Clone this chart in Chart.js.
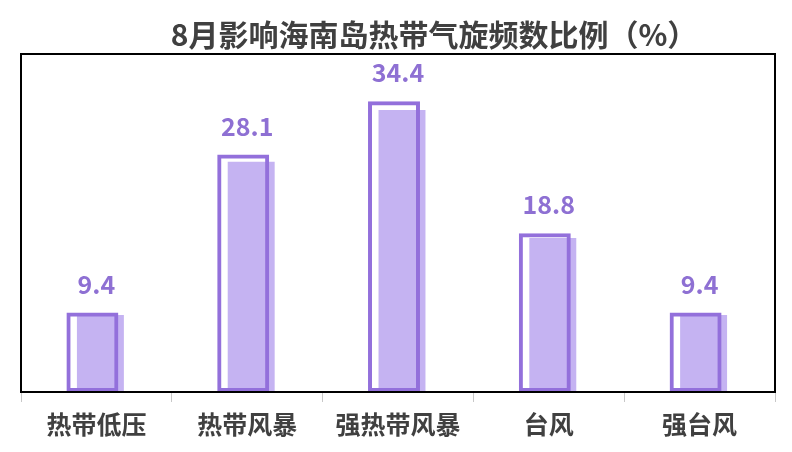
<!DOCTYPE html>
<html><head><meta charset="utf-8">
<script src="https://cdn.jsdelivr.net/npm/chart.js@4.4.1/dist/chart.umd.min.js"></script>
<style>html,body{margin:0;padding:0;background:#fff}#wrap{width:792px;height:452px;position:relative}</style>
</head><body><div id="wrap"><canvas id="c"></canvas></div>
<script>
const categories = ['热带低压', '热带风暴', '强热带风暴', '台风', '强台风'];
const ratios = [9.4, 28.1, 34.4, 18.8, 9.4];
const chartTitle = '8月影响海南岛热带气旋频数比例（%）';
const yMin = 0;
const yMax = 40;

const FONT = "'Noto Sans CJK SC', 'Noto Sans', sans-serif";

const shadowPlugin = {
  id: 'shadowScale',
  beforeDatasetDraw(chart, args) {
    if (args.index !== 1) return;
    const base = chart.scales.y.getPixelForValue(0);
    chart.ctx.save();
    chart.ctx.translate(0, base * 0.03);
    chart.ctx.scale(1, 0.97);
  },
  afterDatasetDraw(chart, args) {
    if (args.index !== 1) return;
    chart.ctx.restore();
  }
};

const framePlugin = {
  id: 'frame',
  afterDatasetsDraw(chart) {
    const {ctx, chartArea: a} = chart;
    ctx.save();
    ctx.strokeStyle = '#000';
    ctx.lineWidth = 2;
    ctx.strokeRect(a.left, a.top, a.right - a.left, a.bottom - a.top);
    ctx.restore();
  }
};

const titlePlugin = {
  id: 'offsetTitle',
  afterDraw(chart) {
    const ctx = chart.ctx;
    ctx.save();
    ctx.font = "bold 30px " + FONT;
    ctx.fillStyle = '#404040';
    ctx.textAlign = 'center';
    ctx.textBaseline = 'middle';
    ctx.fillText(chartTitle, chart.width / 2 + 38, 35);
    ctx.restore();
  }
};

const labelPlugin = {
  id: 'valueLabels',
  afterDatasetsDraw(chart) {
    const ctx = chart.ctx;
    const meta = chart.getDatasetMeta(0);
    const xs = chart.scales.x;
    ctx.save();
    ctx.font = "bold 25px " + FONT;
    ctx.fillStyle = '#8E70D3';
    ctx.textAlign = 'center';
    ctx.textBaseline = 'alphabetic';
    meta.data.forEach((el, i) => {
      ctx.fillText(ratios[i].toFixed(1), xs.getPixelForValue(i), el.y - 19);
    });
    ctx.restore();
  }
};

new Chart(document.getElementById('c'), {
  type: 'bar',
  data: {
    labels: categories,
    datasets: [
      {
        data: ratios,
        backgroundColor: 'rgba(0,0,0,0)',
        borderColor: '#9370DB',
        borderWidth: 4,
        borderSkipped: false,
        barPercentage: 6.5,
        categoryPercentage: 0.106
      },
      {
        data: ratios,
        backgroundColor: '#C5B3F2',
        borderWidth: 0,
        barPercentage: 5.875,
        categoryPercentage: 0.106
      }
    ]
  },
  options: {
    responsive: true,
    maintainAspectRatio: false,
    animation: false,
    layout: { padding: { left: 21, right: 17, top: 54, bottom: 6 } },
    plugins: {
      legend: { display: false },
      tooltip: { enabled: false },
      title: { display: false }
    },
    scales: {
      x: {
        ticks: {
          color: '#404040',
          font: { family: FONT, size: 25, weight: 'bold' },
          padding: 7,
          maxRotation: 0,
          autoSkip: false
        },
        grid: {
          display: true,
          drawOnChartArea: false,
          drawTicks: true,
          tickLength: 10,
          color: '#C8C8C8',
          offset: true
        },
        border: { display: false }
      },
      y: {
        display: false,
        min: yMin,
        max: yMax
      }
    }
  },
  plugins: [shadowPlugin, framePlugin, labelPlugin, titlePlugin]
});
</script>
</body></html>
